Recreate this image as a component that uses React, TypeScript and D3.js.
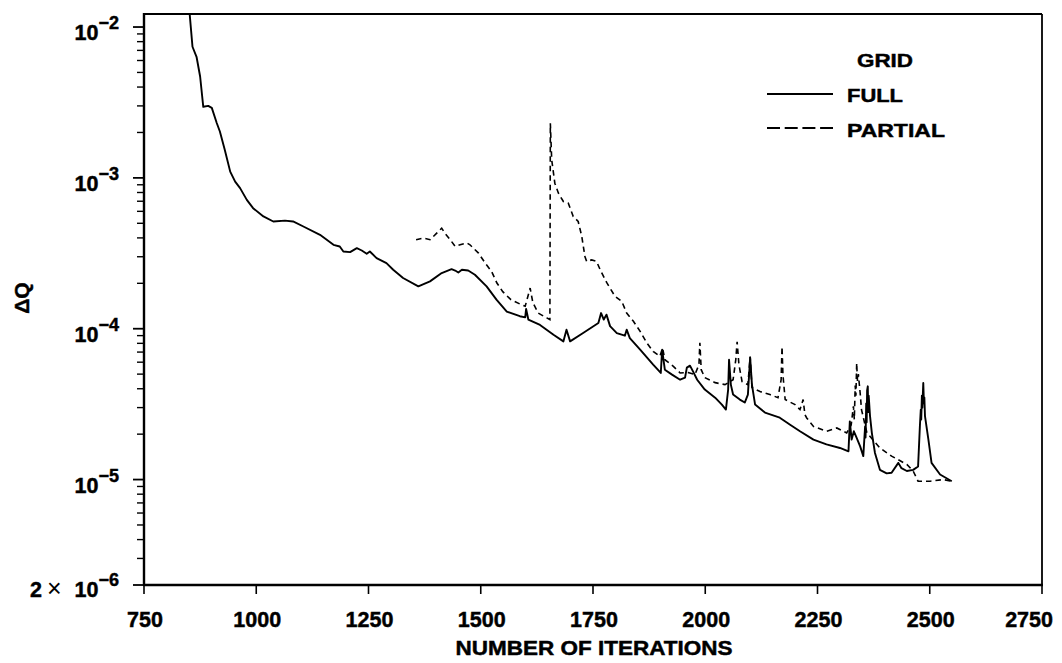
import React from "react";
import * as d3 from "d3";

// ---- data ----
const fullIter = [850, 858, 867, 875, 882, 893, 901, 912, 919, 930, 942, 953, 964, 979, 993, 1016, 1038, 1064, 1082, 1105, 1142, 1172, 1186, 1194, 1209, 1224, 1235, 1246, 1253, 1268, 1290, 1305, 1327, 1361, 1387, 1413, 1435, 1443, 1450, 1458, 1472, 1487, 1513, 1535, 1558, 1587, 1599, 1601, 1606, 1632, 1662, 1684, 1691, 1699, 1728, 1762, 1768, 1774, 1780, 1788, 1803, 1821, 1825, 1832, 1855, 1884, 1901, 1904, 1910, 1926, 1944, 1955, 1959, 1966, 1973, 1982, 1999, 2022, 2037, 2046, 2051, 2053, 2057, 2062, 2077, 2088, 2095, 2100, 2104, 2111, 2133, 2166, 2189, 2211, 2241, 2270, 2300, 2319, 2322, 2326, 2331, 2337, 2345, 2352, 2356, 2357, 2358.5, 2359.5, 2360.5, 2362, 2363, 2364, 2367, 2371, 2378, 2389, 2404, 2415, 2430, 2437, 2449, 2463, 2474, 2478, 2480, 2481, 2482.5, 2483.5, 2485.6, 2487, 2488, 2489.4, 2497, 2504, 2523, 2549];
const fullDQ = [1.4e-2, 7.4e-3, 6.35e-3, 4.7e-3, 2.96e-3, 3.0e-3, 2.91e-3, 2.31e-3, 2.03e-3, 1.53e-3, 1.1e-3, 9.44e-4, 8.55e-4, 7.15e-4, 6.3e-4, 5.55e-4, 5.14e-4, 5.21e-4, 5.14e-4, 4.76e-4, 4.19e-4, 3.6e-4, 3.51e-4, 3.25e-4, 3.22e-4, 3.42e-4, 3.3e-4, 3.14e-4, 3.25e-4, 2.94e-4, 2.72e-4, 2.46e-4, 2.17e-4, 1.91e-4, 2.06e-4, 2.34e-4, 2.48e-4, 2.43e-4, 2.36e-4, 2.46e-4, 2.43e-4, 2.28e-4, 1.91e-4, 1.56e-4, 1.3e-4, 1.21e-4, 1.19e-4, 1.35e-4, 1.15e-4, 1.06e-4, 9.12e-5, 8.24e-5, 9.85e-5, 8.24e-5, 9.36e-5, 1.09e-4, 1.27e-4, 1.15e-4, 1.24e-4, 1.04e-4, 9.36e-5, 8.99e-5, 9.85e-5, 8.67e-5, 7.26e-5, 5.78e-5, 5.09e-5, 7.26e-5, 5.35e-5, 4.96e-5, 4.59e-5, 4.74e-5, 5.52e-5, 5.69e-5, 5.19e-5, 4.59e-5, 3.95e-5, 3.49e-5, 3.14e-5, 2.91e-5, 3.95e-5, 6.23e-5, 4.26e-5, 3.66e-5, 3.39e-5, 3.24e-5, 3.66e-5, 6.43e-5, 4.26e-5, 3.14e-5, 2.78e-5, 2.57e-5, 2.31e-5, 2.09e-5, 1.84e-5, 1.71e-5, 1.62e-5, 1.54e-5, 2.43e-5, 1.84e-5, 2.09e-5, 1.9e-5, 1.66e-5, 1.43e-5, 2.25e-5, 1.9e-5, 3.2e-5, 2.4e-5, 3.9e-5, 4.15e-5, 2.8e-5, 3.6e-5, 2.63e-5, 2.04e-5, 1.5e-5, 1.16e-5, 1.1e-5, 1.11e-5, 1.29e-5, 1.19e-5, 1.14e-5, 1.16e-5, 1.22e-5, 2.25e-5, 2.9e-5, 2.5e-5, 3.6e-5, 3.0e-5, 4.37e-5, 3.2e-5, 3.5e-5, 2.63e-5, 1.84e-5, 1.29e-5, 1.08e-5, 9.75e-6];

const partialIter = [1356, 1372, 1387, 1402, 1413, 1420, 1432, 1443, 1454, 1469, 1476, 1495, 1510, 1524, 1536, 1549, 1567, 1587, 1599, 1610, 1616, 1628, 1647, 1654, 1655, 1658, 1665, 1673, 1684, 1695, 1706, 1717, 1725, 1732, 1736, 1747, 1758, 1766, 1781, 1799, 1814, 1825, 1840, 1855, 1870, 1884, 1899, 1905, 1910, 1929, 1944, 1962, 1977, 1986, 1988, 1991, 1999, 2022, 2044, 2062, 2068, 2071, 2075, 2082, 2095, 2100, 2104, 2122, 2144, 2162, 2169, 2171, 2173, 2178, 2200, 2211, 2218, 2222, 2226, 2241, 2270, 2293, 2315, 2325, 2330, 2332, 2334, 2335.5, 2337.3, 2339, 2341, 2345, 2348, 2360, 2389, 2415, 2449, 2463, 2474, 2501, 2530, 2549];
const partialDQ = [3.89e-4, 3.99e-4, 3.89e-4, 4.3e-4, 4.64e-4, 4.3e-4, 3.89e-4, 3.51e-4, 3.6e-4, 3.7e-4, 3.6e-4, 3.17e-4, 2.72e-4, 2.4e-4, 2.01e-4, 1.76e-4, 1.56e-4, 1.46e-4, 1.41e-4, 1.86e-4, 1.49e-4, 1.27e-4, 1.18e-4, 1.15e-4, 2.3e-3, 1.32e-3, 9.22e-4, 7.92e-4, 6.97e-4, 6.8e-4, 5.55e-4, 5.14e-4, 4.09e-4, 3.01e-4, 2.79e-4, 2.86e-4, 2.79e-4, 2.46e-4, 2.01e-4, 1.64e-4, 1.52e-4, 1.27e-4, 1.12e-4, 9.6e-5, 8.04e-5, 7.07e-5, 6.56e-5, 7.45e-5, 6.23e-5, 5.63e-5, 5.09e-5, 5.12e-5, 4.96e-5, 5.78e-5, 8.08e-5, 5.35e-5, 4.74e-5, 4.39e-5, 4.26e-5, 4.59e-5, 6.23e-5, 8.2e-5, 5.78e-5, 4.46e-5, 4.26e-5, 6.53e-5, 4.07e-5, 3.83e-5, 3.66e-5, 3.49e-5, 4.59e-5, 7.6e-5, 4.96e-5, 3.39e-5, 3.14e-5, 2.91e-5, 3.39e-5, 2.69e-5, 2.56e-5, 2.25e-5, 2.09e-5, 2.2e-5, 2.04e-5, 2.3e-5, 3.06e-5, 2.5e-5, 4.2e-5, 3.6e-5, 5.93e-5, 4.5e-5, 5.0e-5, 3.75e-5, 2.91e-5, 2.04e-5, 1.62e-5, 1.43e-5, 1.26e-5, 1.14e-5, 9.75e-6, 9.75e-6, 1.0e-5, 9.75e-6];

const xTickValues = [750, 1000, 1250, 1500, 1750, 2000, 2250, 2500, 2750];
const xTickLabels = ["750", "1000", "1250", "1500", "1750", "2000", "2250", "2500", "2750"];
const yMajorValues = [1e-2, 1e-3, 1e-4, 1e-5];
const yMajorExponents = ["\u22122", "\u22123", "\u22124", "\u22125"];
const legendTitle = "GRID";
const legendLabels = ["FULL", "PARTIAL"];
const xTitle = "NUMBER OF ITERATIONS";
const yTitle = "\u0394Q";

const FONT = "'Liberation Sans', Arial, Helvetica, sans-serif";

export default function App() {
  const left = 144, right = 1042, top = 14, bottom = 585;
  const x = d3.scaleLinear().domain([750, 2750]).range([left, right]);
  const y = d3.scaleLog().domain([2e-6, 1.22e-2]).range([bottom, top]);

  const mk = (xs: number[], ys: number[]) =>
    d3
      .line<[number, number]>()
      .x((d) => x(d[0]))
      .y((d) => y(d[1]))(xs.map((v, i) => [v, ys[i]] as [number, number])) || "";

  const fullPath = mk(fullIter, fullDQ);
  const partialPath = mk(partialIter, partialDQ);

  // minor ticks
  const minor: number[] = [];
  for (let k = -6; k <= -2; k++) {
    for (let m = 1; m <= 9; m++) {
      const v = m * Math.pow(10, k);
      if (v >= 2e-6 * 0.999 && v <= 1.22e-2) minor.push(v);
    }
  }
  const isMajor = (v: number) =>
    yMajorValues.some((m) => Math.abs(v / m - 1) < 1e-6) || Math.abs(v / 2e-6 - 1) < 1e-6;

  const boldStroke = { stroke: "#000", strokeWidth: 0.45 };

  return (
    <svg
      width={1062}
      height={663}
      style={{ position: "absolute", left: 0, top: 0, background: "#fff" }}
      fontFamily={FONT}
    >
      <defs>
        <clipPath id="plotclip">
          <rect x={left} y={top} width={right - left} height={bottom - top} />
        </clipPath>
      </defs>
      <rect x={0} y={0} width={1062} height={663} fill="#fff" />

      {/* frame */}
      <line x1={left} y1={top} x2={right} y2={top} stroke="#000" strokeWidth={2.2} />
      <line x1={right} y1={top} x2={right} y2={bottom} stroke="#000" strokeWidth={1.8} />
      <line x1={left} y1={top - 1} x2={left} y2={bottom + 1} stroke="#000" strokeWidth={2.4} />
      <line x1={left - 1} y1={bottom} x2={right + 1} y2={bottom} stroke="#000" strokeWidth={2.4} />

      {/* y ticks */}
      {minor.map((v, i) => {
        const yy = y(v);
        const maj = isMajor(v);
        return (
          <line
            key={"yt" + i}
            x1={left - (maj ? 11 : 7)}
            x2={left}
            y1={yy}
            y2={yy}
            stroke="#000"
            strokeWidth={maj ? 1.8 : 1.4}
          />
        );
      })}

      {/* y labels */}
      {yMajorValues.map((v, i) => (
        <text key={"yl" + i} x={119} y={y(v) + 13} textAnchor="end" fontWeight="bold" fontSize={21.5} {...boldStroke}>
          10
          <tspan dy={-11} fontSize={18}>
            {yMajorExponents[i]}
          </tspan>
        </text>
      ))}
      <text x={30} y={y(2e-6) + 12} fontWeight="bold" fontSize={21.5} {...boldStroke}>
        2
      </text>
      <text x={47} y={y(2e-6) + 12} fontSize={25}>
        {"\u00D7"}
      </text>
      <text x={119} y={y(2e-6) + 12} textAnchor="end" fontWeight="bold" fontSize={21.5} {...boldStroke}>
        10
        <tspan dy={-11} fontSize={18}>
          {"\u22126"}
        </tspan>
      </text>

      {/* x ticks */}
      {xTickValues.map((v, i) => {
        const last = i === xTickValues.length - 1;
        return (
          <g key={"xt" + i}>
            <line x1={x(v)} x2={x(v)} y1={bottom} y2={bottom + 9} stroke="#000" strokeWidth={1.6} />
            <text
              x={last ? 1053 : x(v) + 1}
              y={627}
              textAnchor={last ? "end" : "middle"}
              fontWeight="bold"
              fontSize={21.5}
              {...boldStroke}
            >
              {xTickLabels[i]}
            </text>
          </g>
        );
      })}

      {/* axis titles */}
      <text
        x={594}
        y={655}
        textAnchor="middle"
        fontWeight="bold"
        fontSize={19.5}
        textLength={277}
        lengthAdjust="spacingAndGlyphs"
        {...boldStroke}
      >
        {xTitle}
      </text>
      <text
        transform="translate(29,298) rotate(-90)"
        textAnchor="middle"
        fontWeight="bold"
        fontSize={21}
        {...boldStroke}
      >
        {yTitle}
      </text>

      {/* curves */}
      <g clipPath="url(#plotclip)">
        <path d={partialPath} fill="none" stroke="#000" strokeWidth={1.6} strokeDasharray="5.5,4" />
        <path d={fullPath} fill="none" stroke="#000" strokeWidth={1.9} strokeLinejoin="round" />
      </g>

      {/* legend */}
      <text x={857} y={67} fontWeight="bold" fontSize={19} textLength={56} lengthAdjust="spacingAndGlyphs" {...boldStroke}>
        {legendTitle}
      </text>
      <line x1={767} x2={833} y1={94} y2={94} stroke="#000" strokeWidth={2} />
      <text x={847} y={102} fontWeight="bold" fontSize={19} textLength={56} lengthAdjust="spacingAndGlyphs" {...boldStroke}>
        {legendLabels[0]}
      </text>
      <line x1={767} x2={833} y1={128} y2={128} stroke="#000" strokeWidth={2.2} strokeDasharray="13,4.7" />
      <text x={847} y={137} fontWeight="bold" fontSize={19} textLength={98} lengthAdjust="spacingAndGlyphs" {...boldStroke}>
        {legendLabels[1]}
      </text>
    </svg>
  );
}
